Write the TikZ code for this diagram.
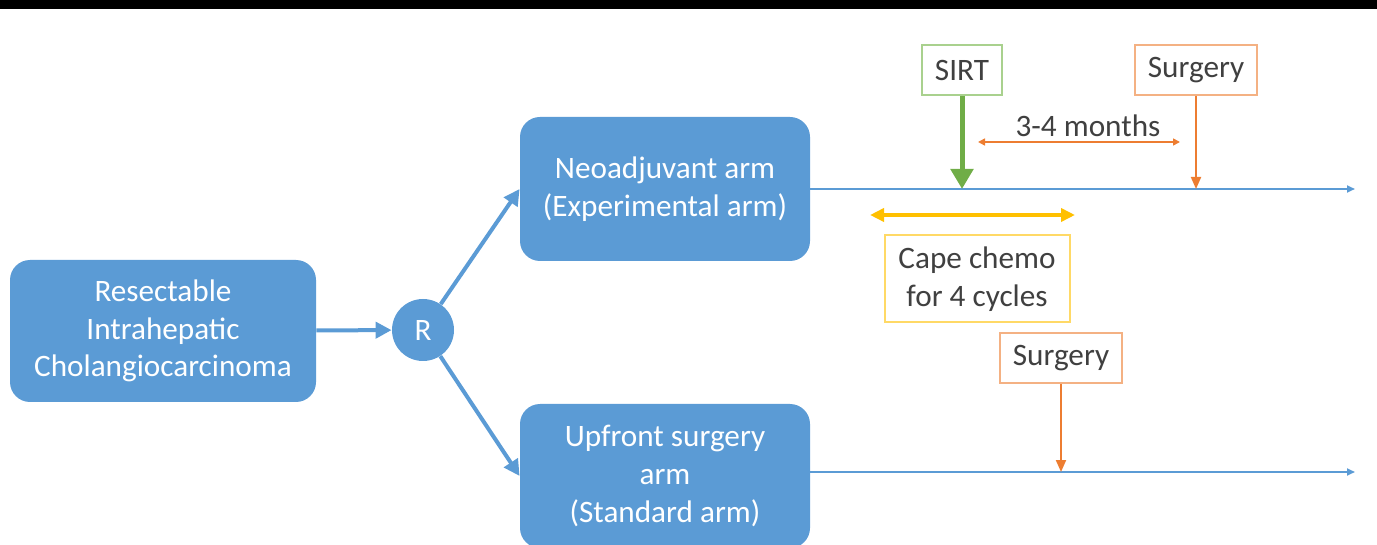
\documentclass[tikz,border=0pt]{standalone}
\usepackage{fontspec}
\setmainfont{Carlito}
\usetikzlibrary{arrows.meta}
\usetikzlibrary{positioning}
\definecolor{armblue}{HTML}{5B9BD5}
\definecolor{sirtgreen}{HTML}{70AD47}
\definecolor{sirtedge}{HTML}{A9D18E}
\definecolor{surgorange}{HTML}{ED7D31}
\definecolor{surgedge}{HTML}{F4B183}
\definecolor{capeyellow}{HTML}{FFC000}
\definecolor{capeedge}{HTML}{FFD966}
\definecolor{labelgray}{HTML}{404040}

\begin{document}
\begin{tikzpicture}[x=0.5pt,y=-0.5pt,
  font=\fontsize{15.6}{18.8}\selectfont,
  arm/.style={rounded corners=10pt, fill=armblue, text=white, align=center, inner sep=0pt},
  event/.style={draw, line width=1pt, fill=white, text=labelgray, align=center, inner sep=0pt},
  flow/.style={armblue, line width=2pt, -{Triangle[length=8pt,width=8pt]}},
  tline/.style={armblue, line width=1pt, -{Triangle[length=4pt,width=3.5pt]}}]
\useasboundingbox (0,0) rectangle (1377,545);
\fill[black] (0,0) rectangle (1377,9);

% arms
\node[arm, minimum width=153pt, minimum height=71pt] (res) at (163,331) {Resectable\\Intrahepatic\\Cholangiocarcinoma};
\node[arm, circle, minimum size=31pt] (r) at (423,330) {R};
\node[arm, minimum width=145pt, minimum height=72pt] (neo) at (665,189) {Neoadjuvant arm\\(Experimental arm)};
\node[arm, minimum width=145pt, minimum height=72pt] (up) at (665,476) {Upfront surgery\\arm\\(Standard arm)};

\draw[flow] (res) -- (r);
\draw[flow] (r) -- (neo.west);
\draw[flow] (r) -- (up.west);

% timelines
\coordinate (topend) at (1355,189);
\coordinate (botend) at (1355,472);
\draw[tline] (neo.east) -- (topend);
\draw[tline] (up.east |- botend) -- (botend);

% events
\node[event, draw=sirtedge, minimum width=40pt, minimum height=25pt] (sirt) at (962,70) {SIRT};
\node[event, draw=surgedge, minimum width=61pt, minimum height=25pt] (surgtop) at (1196,70) {Surgery};
\node[event, draw=capeedge, minimum width=92.5pt, minimum height=43.5pt] (cape) at (977,279) {Cape chemo\\for 4 cycles};
\node[event, draw=surgedge, minimum width=61pt, minimum height=25pt] (surgbot) at (1061,358) {Surgery};

\draw[sirtgreen, line width=2.5pt, -{Triangle[length=10pt,width=11pt]}] (sirt.south) -- (sirt.south |- topend);
\draw[surgorange, line width=1pt, -{Triangle[length=6pt,width=5pt]}] (surgtop.south) -- (surgtop.south |- topend);
\draw[surgorange, line width=1pt, -{Triangle[length=6pt,width=5pt]}] (surgbot.south) -- (surgbot.south |- botend);

% intervals
\node[text=labelgray, inner sep=0pt] (months) at (1088,126) {3-4 months};
\coordinate (mleft) at (978,142);
\coordinate (mright) at (1180,142);
\draw[surgorange, line width=0.8pt, {Triangle[length=3.5pt,width=3.5pt]}-{Triangle[length=3.5pt,width=3.5pt]}] (mleft) -- (mright);
\coordinate (cleft) at (870,215);
\coordinate (cright) at (1075,215);
\draw[capeyellow, line width=2pt, {Triangle[length=7pt,width=6.5pt]}-{Triangle[length=7pt,width=6.5pt]}] (cleft) -- (cright);

\end{tikzpicture}
\end{document}
